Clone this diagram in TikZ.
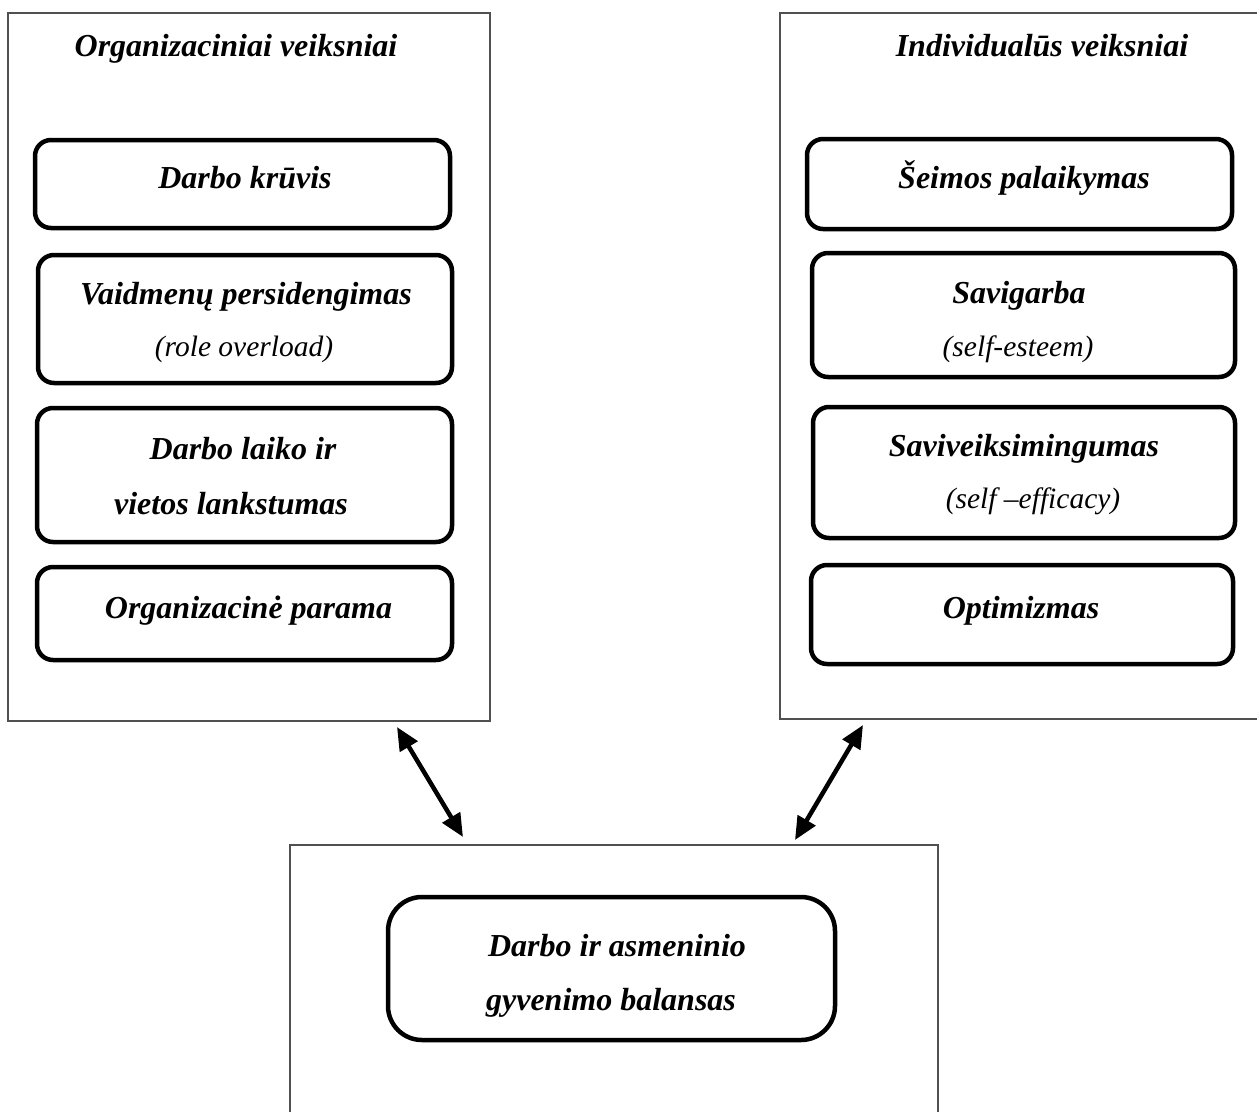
\documentclass[tikz,border=0pt]{standalone}
\usepackage{fontspec}
\setmainfont{Liberation Serif}
\usetikzlibrary{arrows.meta}
\definecolor{framegray}{HTML}{505050}
\tikzset{
  outerbox/.style={draw=framegray, line width=1.6pt, inner sep=0pt},
  inbox/.style={draw=black, line width=4.5pt, rounded corners=16pt, inner sep=0pt},
  bigbox/.style={draw=black, line width=4.5pt, rounded corners=34pt, inner sep=0pt},
  lbl/.style={font=\fontsize{32}{38}\selectfont\bfseries\itshape, anchor=base, inner sep=0pt},
  sublbl/.style={font=\fontsize{29.5}{36}\selectfont\itshape, anchor=base, inner sep=0pt},
  biarrow/.style={line width=4.5pt, {Triangle[length=23pt,width=20pt]}-{Triangle[length=23pt,width=20pt]}}
}
\begin{document}
\begin{tikzpicture}[x=1pt,y=-1pt]
\useasboundingbox[fill=white] (0,0) rectangle (1257,1111);
% outer frames
\node[outerbox, minimum width=482pt, minimum height=708pt] (L) at (249,367) {};
\node[outerbox, minimum width=480pt, minimum height=706pt] (R) at (1020,366) {};
\node[outerbox, minimum width=648pt, minimum height=290pt] (B) at (614,990) {};
% titles
\node[lbl] (tL) at (236,56) {Organizaciniai veiksniai};
\node[lbl] (tR) at (1042,56) {Individualūs veiksniai};
% left boxes
\node[inbox, minimum width=415pt, minimum height=88pt] (b1) at (242.5,184) {};
\node[inbox, minimum width=414pt, minimum height=128pt] (b2) at (245,319) {};
\node[inbox, minimum width=415pt, minimum height=134pt] (b3) at (244.5,475) {};
\node[inbox, minimum width=415pt, minimum height=93pt] (b4) at (244.5,613.5) {};
\node[lbl] (b1t) at (245,188) {Darbo krūvis};
\node[lbl] (b2t) at (246,304) {Vaidmenų persidengimas};
\node[sublbl] (b2s) at (244,356) {(role overload)};
\node[lbl] (b3t) at (243,459) {Darbo laiko ir};
\node[lbl] (b3s) at (231,514) {vietos lankstumas};
\node[lbl] (b4t) at (248.5,618) {Organizacinė parama};
% right boxes
\node[inbox, minimum width=425pt, minimum height=90pt] (c1) at (1019.5,184) {};
\node[inbox, minimum width=423pt, minimum height=124pt] (c2) at (1023.5,315) {};
\node[inbox, minimum width=422pt, minimum height=131pt] (c3) at (1024,472.5) {};
\node[inbox, minimum width=422pt, minimum height=99pt] (c4) at (1022,614.5) {};
\node[lbl] (c1t) at (1024,188) {Šeimos palaikymas};
\node[lbl] (c2t) at (1019,303) {Savigarba};
\node[sublbl] (c2s) at (1018,356) {(self-esteem)};
\node[lbl] (c3t) at (1024,456) {Saviveiksimingumas};
\node[sublbl] (c3s) at (1033,508) {(self –efficacy)};
\node[lbl] (c4t) at (1021,618) {Optimizmas};
% bottom box
\node[bigbox, minimum width=447pt, minimum height=143pt] (d) at (611.5,968.5) {};
\node[lbl] (dt) at (617,956) {Darbo ir asmeninio};
\node[lbl] (ds) at (611,1010) {gyvenimo balansas};
% arrows
\coordinate (a1) at (397,727);
\coordinate (a2) at (463,837);
\coordinate (a3) at (863,725);
\coordinate (a4) at (795,840);
\draw[biarrow] (a1) -- (a2);
\draw[biarrow] (a3) -- (a4);
\end{tikzpicture}
\end{document}
